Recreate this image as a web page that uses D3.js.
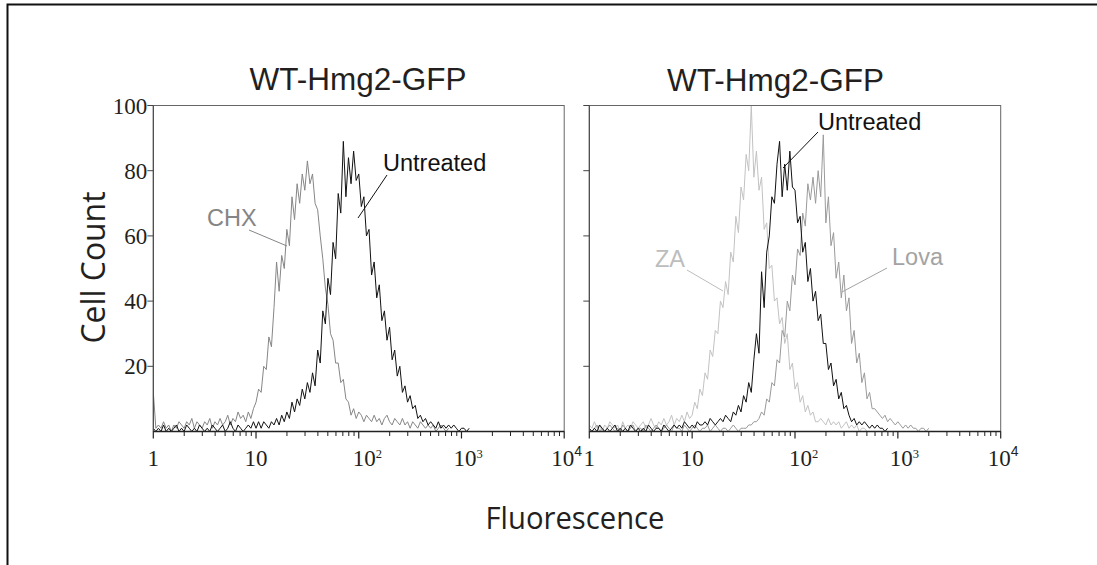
<!DOCTYPE html>
<html><head><meta charset="utf-8">
<script src="https://cdn.jsdelivr.net/npm/d3@7"></script>
<style>body{margin:0;background:#fff}svg{display:block}</style>
</head><body>
<script>
// ---------- DATA ----------
const panelTitles = ["WT-Hmg2-GFP", "WT-Hmg2-GFP"];
const yTickValues = [20, 40, 60, 80, 100];
const xTickValues = [1, 10, 100, 1000, 10000];
const xTickBase = ["1", "10", "10", "10", "10"];
const xTickExp = ["", "", "2", "3", "4"];
const binStepLog = 0.025; // histogram channels, in decades, starting at 10^0

// Left panel
const chxCounts = [12,1,2,1,3,1,2,0,2,1,3,2,1,3,2,4,1,3,2,1,3,2,4,1,3,2,4,2,3,5,2,4,3,6,4,5,3,6,4,7,
  9,13,12,20,19,29,26,38,52,43,54,50,62,57,72,65,76,70,79,74,83,76,79,70,68,60,53,44,39,30,
  28,21,21,15,16,10,9,5,7,4,6,
  5,3,5,4,3,5,3,4,2,4,5,3,2,4,3,2,4,2,3,1,3,2,1,3,2,1,2,1,2,0,1,2,1,0,1];
const untreatedLeftCounts = [1,0,1,0,2,0,1,0,1,2,0,1,0,2,1,0,1,0,2,1,0,1,0,2,1,0,1,2,0,1,3,1,0,2,1,0,1,2,1,3,
  1,3,1,3,2,1,3,2,4,2,5,3,6,4,9,6,10,8,13,10,15,12,18,14,25,21,37,33,47,42,
  58,53,73,67,89,72,84,76,86,77,79,69,72,60,62,48,52,41,45,34,
  37,28,32,22,25,17,20,12,14,9,11,7,8,4,5,3,4,2,3,2,1,3,1,2,1,2,1,2,1,0,1,1,0,1];

// Right panel
const zaCounts = [2,1,3,1,2,0,2,1,3,2,1,2,0,3,1,2,1,3,2,1,2,3,1,2,4,2,1,3,2,4,2,3,5,2,4,
  3,5,3,6,4,
  5,9,7,13,11,18,16,25,23,31,30,40,38,46,42,55,52,66,61,75,71,85,80,100,78,86,74,78,62,64,
  50,51,40,41,33,35,27,30,19,21,13,15,9,11,6,8,5,6,3,
  3,4,3,2,4,2,3,2,3,1,2,3,1,2,1,2,0,1,1,0];
const untreatedRightCounts = [1,0,1,0,2,1,0,1,0,1,2,0,1,0,1,0,2,1,0,1,0,1,0,2,1,0,1,1,0,2,1,0,1,2,1,2,1,3,2,1,
  2,1,3,2,2,3,2,4,3,2,3,4,3,5,4,3,6,5,8,6,11,9,15,12,22,30,24,49,38,55,
  60,72,70,82,89,72,82,74,86,75,74,64,66,55,58,46,50,40,43,34,
  36,27,27,19,21,14,16,10,12,7,8,5,3,4,2,3,2,3,2,1,2,1,2,1,1,0,1];
const lovaCounts = [1,0,1,2,0,1,0,1,2,1,0,1,0,2,1,0,1,2,0,1,1,0,2,1,0,1,2,1,0,1,2,1,0,2,1,1,0,2,1,0,
  1,2,1,0,1,1,2,0,1,2,1,0,1,1,0,1,2,1,0,1,1,1,2,2,3,3,4,6,5,10,
  9,15,14,22,21,31,29,40,37,48,45,56,54,67,63,76,71,78,70,80,
  72,91,64,72,57,61,47,52,41,48,37,41,27,31,21,24,15,18,10,12,7,
  7,6,5,4,5,3,4,3,2,3,2,1,2,1,2,1,1,0,1,1,0,1];

const annotations = [
  {panel:0, text:"Untreated", color:"#111", tx:383, ty:171, lx1:387, ly1:175, lx2:358, ly2:218},
  {panel:0, text:"CHX", color:"#858585", tx:207, ty:226, lx1:249, ly1:230, lx2:287, ly2:246},
  {panel:1, text:"Untreated", color:"#111", tx:818, ty:129.5, lx1:818, ly1:132, lx2:783, ly2:168},
  {panel:1, text:"ZA", color:"#bdbdbd", tx:655, ty:267, lx1:687, ly1:270, lx2:723, ly2:291},
  {panel:1, text:"Lova", color:"#a3a3a3", tx:892, ty:265, lx1:887, ly1:268, lx2:842, ly2:292}
];

// ---------- LAYOUT ----------
const W = 1097, H = 565;
const svg = d3.select("body").append("svg").attr("width", W).attr("height", H);

// outer frame
svg.append("rect").attr("x", 7.5).attr("y", 4.5).attr("width", 1200).attr("height", 1000)
  .attr("fill", "none").attr("stroke", "#111").attr("stroke-width", 2);

const panels = [
  {x0:153.3, x1:564.2, titleX:358, titleY:90, labels:true,
   series:[{data:chxCounts, color:"#868686"}, {data:untreatedLeftCounts, color:"#111"}]},
  {x0:589.3, x1:1000.7, titleX:775.5, titleY:90.5, labels:false,
   series:[{data:zaCounts, color:"#c2c2c2"}, {data:lovaCounts, color:"#9a9a9a"}, {data:untreatedRightCounts, color:"#111"}]}
];
const yTop = 105.5, yBot = 431.5;
const y = d3.scaleLinear().domain([0, 100]).range([yBot, yTop]);
const serif = "'Liberation Serif','Times New Roman',serif";
const sans = "'Liberation Sans',Arial,sans-serif";
const expDx = {"2": -6, "3": -8, "4": -13};

panels.forEach((p, pi) => {
  const x = d3.scaleLog().domain([1, 10000]).range([p.x0, p.x1]);
  const g = svg.append("g");
  const clipId = "clip" + pi;
  svg.append("clipPath").attr("id", clipId).append("rect")
    .attr("x", p.x0).attr("y", yTop - 2).attr("width", p.x1 - p.x0).attr("height", yBot - yTop + 2);

  // title
  g.append("text").attr("x", p.titleX).attr("y", p.titleY).attr("text-anchor", "middle")
    .attr("font-family", sans).attr("font-size", 31.5).attr("fill", "#231f20").text(panelTitles[pi]);

  // histograms
  const line = d3.line()
    .x((d, i) => x(Math.pow(10, i * binStepLog)))
    .y(d => y(d));
  const lines = g.append("g").attr("clip-path", `url(#${clipId})`);
  p.series.forEach(s => {
    lines.append("path").attr("d", line(s.data)).attr("fill", "none")
      .attr("stroke", s.color).attr("stroke-width", 1).attr("stroke-linejoin", "miter");
  });

  // frame
  g.append("rect").attr("x", p.x0).attr("y", yTop).attr("width", p.x1 - p.x0).attr("height", yBot - yTop)
    .attr("fill", "none").attr("stroke", "#666").attr("stroke-width", 1);
  g.append("line").attr("x1", p.x0).attr("x2", p.x1).attr("y1", yBot).attr("y2", yBot)
    .attr("stroke", "#222").attr("stroke-width", 1.3);
  g.append("line").attr("x1", p.x0).attr("x2", p.x0).attr("y1", yTop).attr("y2", yBot)
    .attr("stroke", "#444").attr("stroke-width", 1);

  // y ticks
  yTickValues.forEach(v => {
    g.append("line").attr("x1", p.x0 - 6).attr("x2", p.x0).attr("y1", y(v)).attr("y2", y(v))
      .attr("stroke", "#444").attr("stroke-width", 1);
    if (p.labels) {
      g.append("text").attr("x", p.x0 - 6).attr("y", y(v) + 8).attr("text-anchor", "end")
        .attr("font-family", serif).attr("font-size", 23).attr("fill", "#231f20").text(v);
    }
  });

  // x ticks: major and minor (log)
  const minor = x.ticks().filter(t => !xTickValues.includes(t));
  minor.forEach(t => {
    g.append("line").attr("x1", x(t)).attr("x2", x(t)).attr("y1", yBot).attr("y2", yBot + 4.5)
      .attr("stroke", "#222").attr("stroke-width", 1);
  });
  xTickValues.forEach((t, i) => {
    g.append("line").attr("x1", x(t)).attr("x2", x(t)).attr("y1", yBot).attr("y2", yBot + 7)
      .attr("stroke", "#222").attr("stroke-width", 1.2);
    const txt = g.append("text").attr("y", 465.5).attr("font-family", serif)
      .attr("font-size", 23).attr("fill", "#231f20");
    if (xTickExp[i] === "") {
      txt.attr("x", x(t)).attr("text-anchor", "middle").text(xTickBase[i]);
    } else {
      txt.attr("x", x(t) + expDx[xTickExp[i]]).attr("text-anchor", "start");
      txt.append("tspan").text(xTickBase[i]);
      txt.append("tspan").attr("font-size", xTickExp[i] === "4" ? 14 : 12.5)
        .attr("font-family", xTickExp[i] === "4" ? sans : serif)
        .attr("dy", xTickExp[i] === "4" ? -10 : -8).text(xTickExp[i]);
    }
  });
});

// annotations
annotations.forEach(a => {
  svg.append("line").attr("x1", a.lx1).attr("y1", a.ly1).attr("x2", a.lx2).attr("y2", a.ly2)
    .attr("stroke", a.color).attr("stroke-width", 1);
  svg.append("text").attr("x", a.tx).attr("y", a.ty).attr("font-family", sans)
    .attr("font-size", 23.5).attr("fill", a.color).text(a.text);
});

// axis titles
svg.append("text").attr("transform", "translate(105,267.5) rotate(-90)").attr("text-anchor", "middle")
  .attr("font-family", "'Open Sans',sans-serif").attr("font-size", 32).attr("fill", "#231f20")
  .attr("textLength", 152).attr("lengthAdjust", "spacingAndGlyphs").text("Cell Count");
svg.append("text").attr("x", 575).attr("y", 529).attr("text-anchor", "middle")
  .attr("font-family", "'Open Sans',sans-serif").attr("font-size", 31).attr("fill", "#231f20")
  .attr("textLength", 179).attr("lengthAdjust", "spacingAndGlyphs").text("Fluorescence");
</script>
</body></html>
